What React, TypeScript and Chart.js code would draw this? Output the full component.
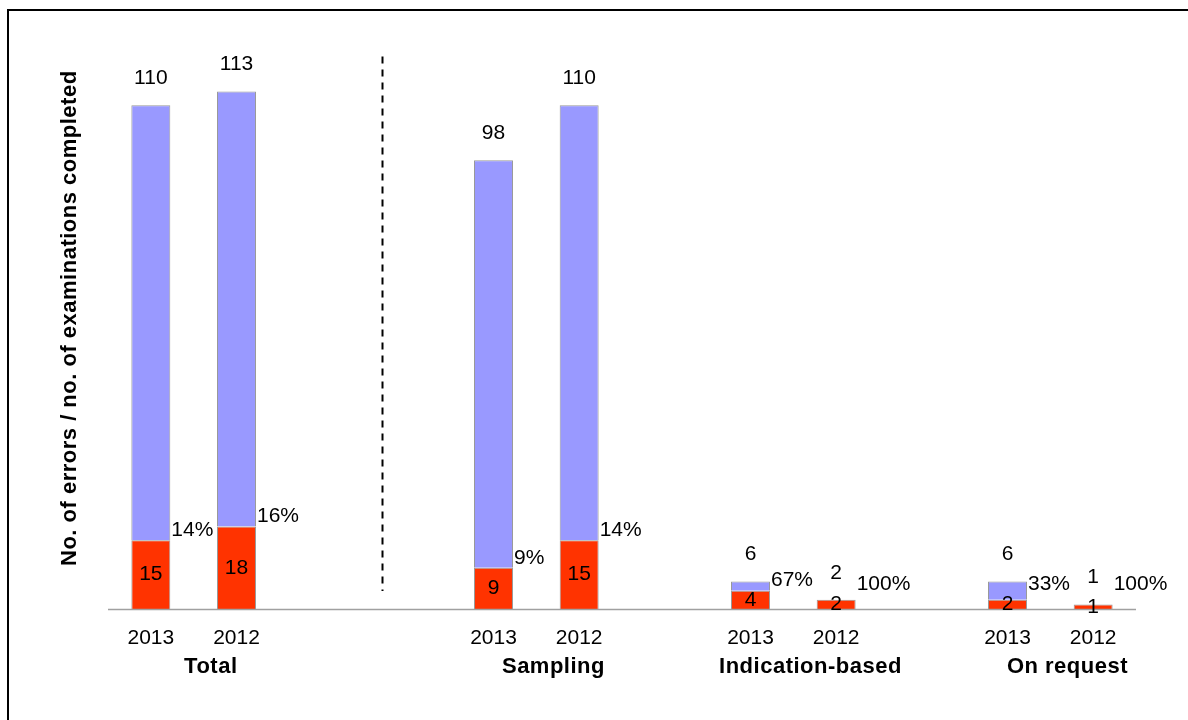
import React, { useEffect, useRef } from "react";
import { Chart, registerables } from "chart.js";

Chart.register(...registerables);

// One slot per bar position; empty strings are spacer slots between groups.
const slotLabels = ["2013", "2012", "", "", "2013", "2012", "", "2013", "2012", "", "2013", "2012"];
const errors: (number | null)[] = [15, 18, null, null, 9, 15, null, 4, 2, null, 2, 1];
const completed: (number | null)[] = [110, 113, null, null, 98, 110, null, 6, 2, null, 6, 1];
const groupNames = ["Total", "Sampling", "Indication-based", "On request"];
const groupSlots = [
  [0, 1],
  [4, 5],
  [7, 8],
  [10, 11],
];
const dividerSlot = 2.7;
const yTitle = "No. of errors / no. of examinations completed";

const remaining = completed.map((c, i) => (c == null ? null : c - (errors[i] as number)));

const RED = "#FF3300";
const BLUE = "#9999FF";
const EDGE = "#999999";
const FONT = '"Liberation Sans", Arial, sans-serif';

const annotations = {
  id: "annotations",
  afterDatasetsDraw(chart: any) {
    const { ctx, chartArea } = chart;
    const xs = chart.scales.x;
    const ys = chart.scales.y;
    const base = ys.getPixelForValue(0);
    const slot = xs.getPixelForValue(1) - xs.getPixelForValue(0);
    const redMeta = chart.getDatasetMeta(0);
    const blueMeta = chart.getDatasetMeta(1);

    ctx.save();

    // category axis line
    ctx.strokeStyle = "#A0A0A0";
    ctx.lineWidth = 1.5;
    ctx.beginPath();
    ctx.moveTo(chartArea.left, base + 0.5);
    ctx.lineTo(chartArea.right, base + 0.5);
    ctx.stroke();

    // dashed divider between "Total" and the breakdown
    const dx = Math.round(xs.getPixelForValue(dividerSlot)) + 0.5;
    ctx.strokeStyle = "#000";
    ctx.lineWidth = 2;
    ctx.setLineDash([7, 6]);
    ctx.beginPath();
    ctx.moveTo(dx, chartArea.top - 3);
    ctx.lineTo(dx, base - 18);
    ctx.stroke();
    ctx.setLineDash([]);

    ctx.fillStyle = "#000";
    ctx.textBaseline = "middle";
    ctx.font = `21px ${FONT}`;

    slotLabels.forEach((lab, i) => {
      const total = completed[i];
      const err = errors[i];
      if (total == null || err == null) return;
      const red = redMeta.data[i];
      const blue = blueMeta.data[i];
      const x = red.x;
      const halfW = red.width / 2;
      const redTop = red.y;
      const top = blue.y;

      ctx.textAlign = "center";
      ctx.fillText(String(total), x, top - 27);
      ctx.fillText(String(err), x, (redTop + base) / 2);
      ctx.fillText(lab, x, base + 29);

      ctx.textAlign = "left";
      const pct = Math.round((err / total) * 100) + "%";
      ctx.fillText(pct, x + halfW + 1, Math.min(redTop - 10, base - 25));
    });

    // group names
    ctx.font = `bold 22px ${FONT}`;
    (ctx as any).letterSpacing = "0.5px";
    ctx.textAlign = "center";
    groupNames.forEach((name, g) => {
      const [a, b] = groupSlots[g];
      const mid = (xs.getPixelForValue(a) + xs.getPixelForValue(b)) / 2 + slot * 0.2;
      ctx.fillText(name, mid, base + 58);
    });

    // value axis title
    ctx.translate(chartArea.left - 38, (chartArea.top + base) / 2 - 16);
    ctx.rotate(-Math.PI / 2);
    ctx.fillText(yTitle, 0, 0);
    (ctx as any).letterSpacing = "0px";

    ctx.restore();
  },
};

export default function App() {
  const canvasRef = useRef<HTMLCanvasElement | null>(null);

  useEffect(() => {
    if (!canvasRef.current) return;
    const chart = new Chart(canvasRef.current, {
      type: "bar",
      data: {
        labels: slotLabels,
        datasets: [
          {
            label: "Errors",
            data: errors,
            backgroundColor: RED,
            borderColor: EDGE,
            borderWidth: 1,
            barPercentage: 0.455,
            categoryPercentage: 1,
          },
          {
            label: "Without errors",
            data: remaining,
            backgroundColor: BLUE,
            borderColor: EDGE,
            borderWidth: 1,
            barPercentage: 0.455,
            categoryPercentage: 1,
          },
        ],
      },
      options: {
        animation: false,
        responsive: true,
        maintainAspectRatio: false,
        layout: { padding: { left: 100, right: 44, top: 51.4, bottom: 103 } },
        plugins: {
          legend: { display: false },
          tooltip: { enabled: false },
        },
        scales: {
          x: { display: false, stacked: true, offset: true },
          y: { display: false, stacked: true, min: 0, max: 120 },
        },
      },
      plugins: [annotations],
    });
    return () => chart.destroy();
  }, []);

  return (
    <div style={{ position: "relative", width: 1172, height: 704, background: "#fff" }}>
      <div
        style={{
          position: "fixed",
          left: 7,
          top: 9,
          width: 1300,
          height: 800,
          borderTop: "2px solid #000",
          borderLeft: "2px solid #000",
          pointerEvents: "none",
        }}
      />
      <canvas ref={canvasRef} />
    </div>
  );
}
